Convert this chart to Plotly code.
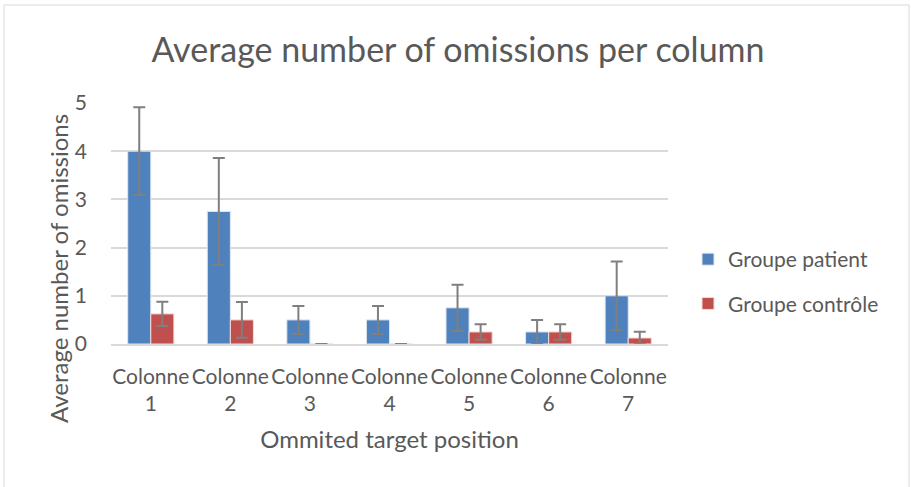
import plotly.graph_objects as go

categories = ["Colonne<br>1", "Colonne<br>2", "Colonne<br>3", "Colonne<br>4",
              "Colonne<br>5", "Colonne<br>6", "Colonne<br>7"]
patient = [4.0, 2.75, 0.5, 0.5, 0.75, 0.25, 1.0]
patient_err = [0.91, 1.11, 0.29, 0.29, 0.48, 0.25, 0.71]
control = [0.625, 0.5, 0.0, 0.0, 0.25, 0.25, 0.125]
control_err = [0.25, 0.37, 0.0, 0.0, 0.16, 0.16, 0.13]

W, H = 911, 487
L, R, T, B = 111, 668, 102, 344

def px(x):
    return (x - L) / (R - L)

def py(y):
    return (B - y) / (B - T)

font = "Lato, 'Open Sans', sans-serif"
gray = "#595959"

fig = go.Figure()
fig.add_trace(go.Bar(
    x=categories, y=patient, name="Groupe patient", legendgroup="p",
    marker=dict(color="#4F81BD", line=dict(color="#DCE6F2", width=1)),
    error_y=dict(type="data", array=patient_err, visible=True,
                 color="#7F7F7F", thickness=2, width=6),
))
fig.add_trace(go.Bar(
    x=categories, y=control, name="Groupe contrôle", legendgroup="c",
    marker=dict(color="#C0504D", line=dict(color="#F2DCDB", width=1)),
    error_y=dict(type="data", array=control_err, visible=True,
                 color="#7F7F7F", thickness=2, width=6),
))

fig.update_layout(
    width=W, height=H,
    margin=dict(l=L, r=W - R, t=T, b=H - B, autoexpand=False),
    paper_bgcolor="white", plot_bgcolor="white",
    barmode="group", bargap=0.42, bargroupgap=0,
    font=dict(family=font, color=gray, size=20),
    title=dict(text="Average number of omissions per column",
               x=458 / W, xanchor="center", y=1 - 50 / H, yanchor="middle",
               font=dict(size=34, color=gray, family=font)),
    xaxis=dict(
        title=dict(text="Ommited target position", font=dict(size=24, color=gray), standoff=17),
        tickfont=dict(size=21, color=gray),
        showline=True, linecolor="#D9D9D9", linewidth=1.5,
        ticks="", showgrid=False, automargin=False,
        ticklabelstandoff=13,
    ),
    yaxis=dict(
        range=[0, 5.02], tickvals=[0, 1, 2, 3, 4, 5],
        tickfont=dict(size=21, color=gray),
        showgrid=True, gridcolor="#D9D9D9", gridwidth=1.5,
        zeroline=False, ticks="", showline=False,
        ticklabelstandoff=23, automargin=False,
    ),
    legend=dict(
        x=px(688), y=py(239), xanchor="left", yanchor="top",
        font=dict(size=21, color=gray), tracegroupgap=14,
        bgcolor="rgba(0,0,0,0)",
    ),
    annotations=[dict(text="Average number of omissions", textangle=-90,
                      xref="paper", yref="paper", x=px(58), y=py(269),
                      xanchor="center", yanchor="middle", showarrow=False,
                      font=dict(size=24, color=gray, family=font))],
    shapes=[dict(type="rect", xref="paper", yref="paper",
                 x0=px(4), x1=px(909), y0=py(490), y1=py(5),
                 line=dict(color="#D9D9D9", width=1), layer="below")],
)

fig.write_html("out.html", config={"displayModeBar": False},
               post_script="document.body.style.margin='0';")
